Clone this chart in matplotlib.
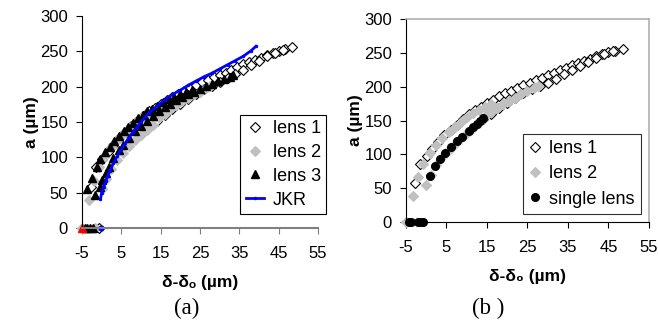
import numpy as np
import matplotlib.pyplot as plt

plt.rcParams['font.family'] = ['Liberation Sans', 'DejaVu Sans']
plt.rcParams['axes.unicode_minus'] = False

# lens 1: two branches (x, a in um)
lens1_up_x = [-2.7, -1.5, 0.1, 1.5, 3, 4.5, 6, 7.5, 9, 10.5, 12, 13.5, 15, 16.5, 18, 19.5, 21,
              22.5, 24, 25.5, 27, 28.5, 30, 31.5, 33, 34.5, 36, 37.5, 39, 40.5, 42, 43.5, 45, 46.5, 48.5]
lens1_up_y = [58, 86, 98, 108, 118, 128, 136, 144, 152, 159, 165, 170, 176, 181, 186, 190, 194,
              198, 202, 206, 210, 213, 217, 220, 224, 228, 232, 235, 238, 241, 245, 248, 251, 253, 256]
lens1_lo_x = [14, 16, 18, 20, 22, 24, 26, 28, 30, 32, 34, 36, 38, 40, 42, 44, 46]
lens1_lo_y = [152, 160, 168, 176, 183, 190, 196, 201, 206, 212, 218, 224, 230, 237, 243, 248, 252]

# lens 2: two branches
lens2_up_x = [-3.2, -2.0, -0.7, 0.9, 2.5, 4, 5.5, 7, 8.5, 10, 11.5, 13, 14.5, 16]
lens2_up_y = [39, 66, 86, 102, 114, 124, 133, 141, 148, 155, 161, 166, 170, 174]
lens2_lo_x = [0, 1.2, 2.5, 4, 5.5, 7, 8.5, 10, 11.5, 13, 14.5, 16, 17.5, 19, 20.5, 22, 23.5, 25, 26.5, 27.5]
lens2_lo_y = [55, 70, 84, 96, 106, 116, 124, 132, 139, 146, 156, 162, 168, 174, 179, 184, 189, 193, 198, 201]

# lens 3 (panel a)
lens3_up_x = [-3.7, -2.5, -1.2, -0.3, 0.8, 2, 3.2, 4.4, 5.6, 6.8, 8, 9.2, 10.4, 11.6, 12.8,
              14, 15.5, 17, 18.5, 20, 21.5, 23]
lens3_up_y = [55, 71, 86, 98, 107, 115, 123, 130, 137, 143, 149, 155, 160, 165, 169,
              173, 178, 182, 186, 189, 192, 195]
lens3_lo_x = [-1.6, -0.5, 0.1, 1, 1.8, 3, 4.3, 5.5, 7, 8.5, 10, 11.5, 13, 14.5, 16, 17.5, 19,
              20.5, 22, 23.5, 25, 26.5, 28, 29.5, 31, 32.5, 33.5]
lens3_lo_y = [47, 58, 68, 78, 87, 99, 110, 118, 128, 137, 145, 152, 159, 165, 171, 176, 181,
              185, 189, 193, 197, 201, 204, 208, 211, 214, 216]

# JKR fit
jkr_x = [-0.3, 0, 0.5, 1, 1.5, 2, 3, 4, 5, 6, 7, 8, 9, 10, 12, 14, 16, 18, 20, 22, 24, 26,
         28, 30, 32, 34, 36, 38, 39.2]
jkr_y = [41, 50, 58, 66, 73, 80, 92, 102, 112, 120, 128, 136, 143, 150, 163, 172, 181, 189,
         195, 202, 208, 214, 219, 225, 231, 237, 243, 251, 257]

# single lens (panel b)
single_x = [0.9, 2.2, 3.5, 4.6, 6.2, 7.5, 8.9, 10.5, 11.5, 12.5, 13.3, 14.1]
single_y = [68, 83, 93, 102, 111, 119, 126, 134, 140, 145, 150, 153]

# points at a = 0
a_lens1_zero = [-0.8]
a_lens2_zero = [-5, -1.6]
a_lens3_zero = [-4.2, -3.6, -3.0, -2.2]
b_lens2_zero = [-5]
b_single_zero = [-4.2, -3.8, -2.1, -1.6, -0.9]

xticks = [-5, 5, 15, 25, 35, 45, 55]
yticks = [0, 50, 100, 150, 200, 250, 300]

gray = '#c0c0c0'
fig = plt.figure(figsize=(6.58, 3.25), dpi=100)
ax1 = fig.add_axes([0.1246, 0.2985, 0.3587, 0.6523])
ax2 = fig.add_axes([0.617, 0.3169, 0.3693, 0.6246])

l1 = dict(marker='D', ms=4.8, mfc='white', mec='black', mew=0.8, ls='none', clip_on=False)
l2 = dict(marker='D', ms=4.8, mfc=gray, mec=gray, mew=0.8, ls='none', clip_on=False)

# panel (a)
ax1.plot(lens1_up_x + lens1_lo_x + a_lens1_zero,
         lens1_up_y + lens1_lo_y + [0] * len(a_lens1_zero), label='lens 1', **l1)
ax1.plot(lens2_up_x + lens2_lo_x + a_lens2_zero,
         lens2_up_y + lens2_lo_y + [0] * len(a_lens2_zero), label='lens 2', **l2)
ax1.plot(lens3_up_x + lens3_lo_x + a_lens3_zero,
         lens3_up_y + lens3_lo_y + [0] * len(a_lens3_zero), label='lens 3',
         marker='^', ms=5.5, color='black', ls='none', clip_on=False)
ax1.plot(jkr_x, jkr_y, color='#0000ff', lw=2, marker='.', ms=3, label='JKR')
ax1.plot([-0.2], [0], marker='o', ms=3.5, color='#0000ff', ls='none', clip_on=False)
ax1.plot([-5], [0], marker='^', ms=5.5, color='red', ls='none', clip_on=False)

# panel (b)
ax2.plot(lens1_up_x + lens1_lo_x, lens1_up_y + lens1_lo_y, label='lens 1', **l1)
ax2.plot(lens2_up_x + lens2_lo_x + b_lens2_zero,
         lens2_up_y + lens2_lo_y + [0] * len(b_lens2_zero), label='lens 2', **l2)
ax2.plot(single_x + b_single_zero, single_y + [0] * len(b_single_zero), label='single lens',
         marker='o', ms=5.5, color='black', ls='none', clip_on=False)

for ax in (ax1, ax2):
    ax.set_xlim(-5, 55)
    ax.set_ylim(0, 300)
    ax.set_xticks(xticks)
    ax.set_yticks(yticks)
    ax.tick_params(labelsize=12, length=4, width=0.8, direction='out')
    ax.tick_params(axis='x', pad=9)
    ax.tick_params(axis='y', pad=6)
    ax.set_ylabel('a (µm)', fontsize=12.5, fontweight='bold', labelpad=1)

ax1.spines['top'].set_visible(False)
ax1.spines['right'].set_visible(False)
ax1.spines['bottom'].set_color('#808080')
ax1.spines['bottom'].set_linewidth(1.5)
ax1.tick_params(axis='x', color='#808080')
ax1.set_xlabel('δ-δₒ (µm)', fontsize=12.5, fontweight='bold', labelpad=10)

for s in ('top', 'right'):
    ax2.spines[s].set_color('#b0b0b0')
    ax2.spines[s].set_linewidth(1.2)
ax2.set_xlabel('δ-δ₀ (µm)', fontsize=12.5, fontweight='bold', labelpad=10)

leg1 = ax1.legend(loc='lower right', bbox_to_anchor=(1.035, 0.066), fontsize=13, fancybox=False,
                  edgecolor='black', framealpha=1, handlelength=1.0, handletextpad=0.5,
                  borderpad=0.3, labelspacing=0.38, borderaxespad=0)
leg1.get_frame().set_linewidth(0.8)
leg2 = ax2.legend(loc='lower right', bbox_to_anchor=(0.967, 0.04), fontsize=13, fancybox=False,
                  edgecolor='#303030', framealpha=1, handlelength=0.6, handletextpad=0.5,
                  borderpad=0.35, labelspacing=0.45, borderaxespad=0)
leg2.get_frame().set_linewidth(0.8)

fig.text(187 / 658, 1 - 308 / 325, '(a)', fontsize=16.5, family='Liberation Serif', ha='center', va='center')
fig.text(488 / 658, 1 - 308 / 325, '(b )', fontsize=16.5, family='Liberation Serif', ha='center', va='center')

fig.savefig('out.png', dpi=100)
